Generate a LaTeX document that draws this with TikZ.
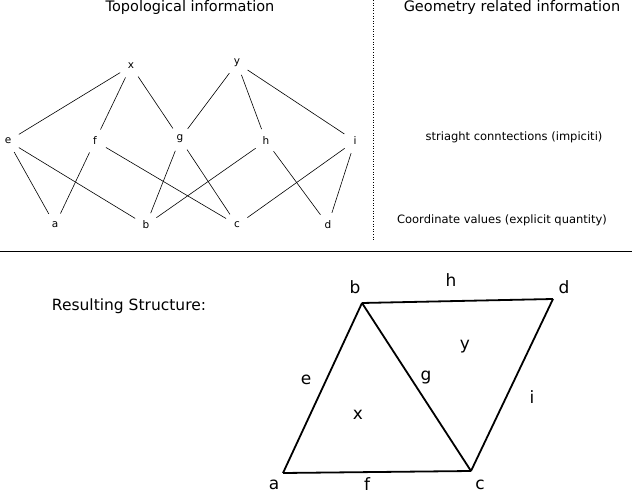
\documentclass[tikz,border=0pt]{standalone}
\usepackage{fontspec}
\setmainfont{DejaVu Sans}
\begin{document}
\begin{tikzpicture}[x=1pt,y=-1pt,
  tnode/.style={circle,inner sep=0pt,minimum size=25pt,font=\fontsize{10.5}{12}\selectfont},
  tedge/.style={line width=0.6pt},
  face/.style={line width=1.8pt,line join=miter},
  blabel/.style={inner sep=0pt,font=\fontsize{17}{20}\selectfont},
  titletext/.style={inner sep=0pt,font=\fontsize{14.5}{17}\selectfont},
  notetext/.style={inner sep=0pt,font=\fontsize{11.5}{14}\selectfont},
  sep/.style={line width=0.6pt}]
\useasboundingbox (0,0) rectangle (632,494);
% titles
\node[titletext] (t1) at (190,8) {Topological information};
\node[titletext] (t2) at (512,8) {Geometry related information};
% separators
\coordinate (v1) at (373,0);
\coordinate (v2) at (373,240);
\draw[sep,dotted] (v1) -- (v2);
\coordinate (h1) at (0,251);
\coordinate (h2) at (632,251);
\draw[sep] (h1) -- (h2);
% notes
\node[notetext] (n1) at (514,137) {striaght conntections (impiciti)};
\node[notetext] (n2) at (502,220) {Coordinate values (explicit quantity)};
% topological graph
\node[tnode] (x) at (131,66) {x};
\node[tnode] (y) at (237,63) {y};
\node[tnode] (e) at (8,141) {e};
\node[tnode] (f) at (95,141) {f};
\node[tnode] (g) at (180,139) {g};
\node[tnode] (h) at (266,141) {h};
\node[tnode] (i) at (355,141) {i};
\node[tnode] (a) at (55,225) {a};
\node[tnode] (b) at (146,225) {b};
\node[tnode] (c) at (237,225) {c};
\node[tnode] (d) at (328,225) {d};
\draw[tedge] (x) -- (e);
\draw[tedge] (x) -- (f);
\draw[tedge] (x) -- (g);
\draw[tedge] (y) -- (g);
\draw[tedge] (y) -- (h);
\draw[tedge] (y) -- (i);
\draw[tedge] (e) -- (a);
\draw[tedge] (e) -- (b);
\draw[tedge] (f) -- (a);
\draw[tedge] (f) -- (c);
\draw[tedge] (g) -- (b);
\draw[tedge] (g) -- (c);
\draw[tedge] (h) -- (b);
\draw[tedge] (h) -- (d);
\draw[tedge] (i) -- (c);
\draw[tedge] (i) -- (d);
% resulting structure
\node[inner sep=0pt,font=\fontsize{15.5}{18}\selectfont] (rs) at (129,306) {Resulting Structure:};
\coordinate (pa) at (283,473);
\coordinate (pb) at (362,303);
\coordinate (pd) at (553,299);
\coordinate (pc) at (471,471);
\draw[face] (pa) -- (pb);
\draw[face] (pb) -- (pc);
\draw[face] (pb) -- (pd);
\draw[face] (pd) -- (pc);
\draw[face] (pa) -- (pc);
\node[blabel] (la) at (274,485) {a};
\node[blabel] (lb) at (355,287) {b};
\node[blabel] (lc) at (480,485) {c};
\node[blabel] (ld) at (564,287) {d};
\node[blabel] (le) at (306,380) {e};
\node[blabel] (lf) at (367,484) {f};
\node[blabel] (lg) at (426,378) {g};
\node[blabel] (lh) at (451,280) {h};
\node[blabel] (li) at (532,397) {i};
\node[blabel] (lx) at (358,415) {x};
\node[blabel] (ly) at (465,347) {y};
\end{tikzpicture}
\end{document}
